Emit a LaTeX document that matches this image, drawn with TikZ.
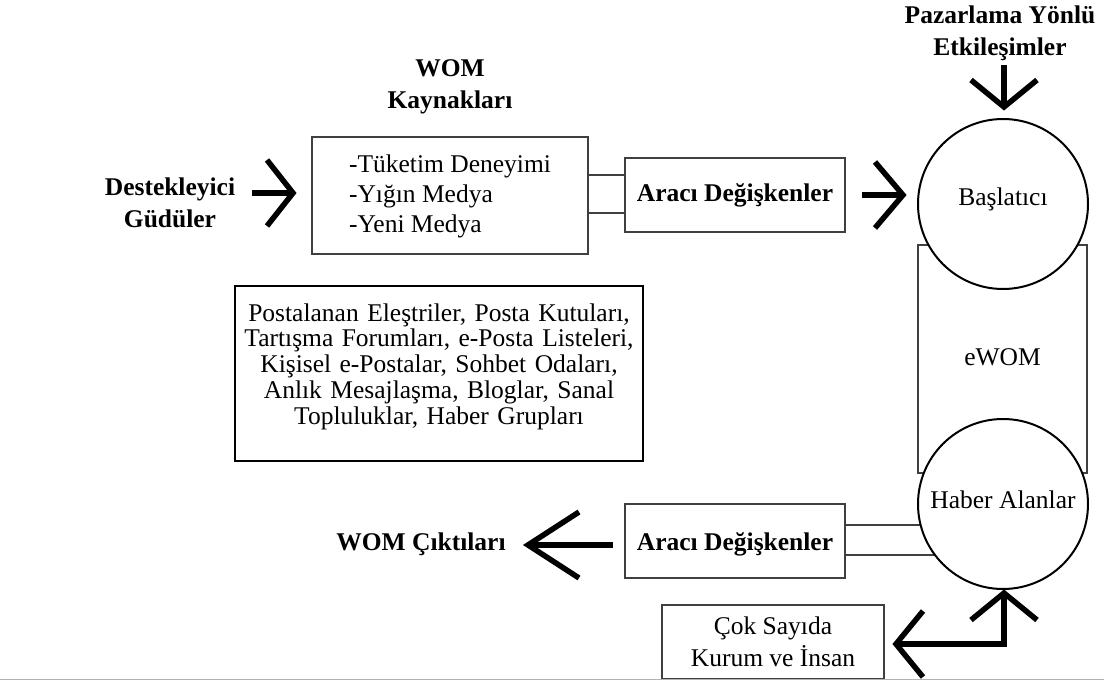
\documentclass[tikz,border=0pt]{standalone}
\usepackage{fontspec}
\setmainfont{Liberation Serif}
\newcommand\sr[2]{\rule[-#2pt]{0pt}{\dimexpr#1pt+#2pt\relax}}
\pgfdeclarelayer{bg}
\pgfsetlayers{bg,main}
\begin{document}
\begin{tikzpicture}[x=1pt,y=-1pt,
  every node/.style={font=\fontsize{25.5}{32}\selectfont, inner sep=0pt},
  bfnode/.style={font=\fontsize{25.5}{32}\selectfont\bfseries, align=center},
  thinbox/.style={draw=black!75, line width=1.3pt, rectangle},
  rnd/.style={circle, draw=black, line width=2pt, fill=white, minimum size=170pt},
  arr/.style={line width=5.5pt, line join=miter, line cap=butt},
  conn/.style={draw=black!75, line width=1.3pt}
]
\useasboundingbox (0,0) rectangle (1104,682);

% text labels
\node[bfnode] (pye) at (1000,32) {\sr{24}{8}Pazarlama Yönlü\\\sr{24}{8}Etkileşimler};
\node[bfnode] (womk) at (450,85) {\sr{24}{8}WOM\\\sr{24}{8}Kaynakları};
\node[bfnode] (dest) at (170,203.5) {\sr{24}{8}Destekleyici\\\sr{24}{8}Güdüler};
\node[bfnode] (womc) at (421,542) {\sr{24}{8}WOM Çıktıları};

% boxes
\node[thinbox, minimum width=276pt, minimum height=117pt, align=left,
      font=\fontsize{25.5}{30}\selectfont] (kay) at (450,195.5)
  {\sr{22}{8}-Tüketim Deneyimi\\\sr{22}{8}-Yığın Medya\\\sr{22}{8}-Yeni Medya};
\node[thinbox, bfnode, minimum width=220pt, minimum height=74pt] (arac1) at (735,195)
  {\sr{24}{10}Aracı Değişkenler};
\node[thinbox, bfnode, minimum width=220pt, minimum height=74pt] (arac2) at (735,541)
  {\sr{24}{6}Aracı Değişkenler};
\node[thinbox, minimum width=222pt, minimum height=74pt, align=center] (cok) at (773,642)
  {\sr{24}{8}Çok Sayıda\\\sr{24}{8}Kurum ve İnsan};
\node[draw=black, line width=2pt, text width=408pt, align=center, inner xsep=0pt,
      inner ysep=16pt, anchor=north west, font=\fontsize{25.5}{25.8}\selectfont] (post) at (234,285)
  {\sr{19}{6.8}Postalanan Eleştriler, Posta Kutuları,\\
   \sr{19}{6.8}Tartışma Forumları, e-Posta Listeleri,\\
   \sr{19}{6.8}Kişisel e-Postalar, Sohbet Odaları,\\
   \sr{19}{6.8}Anlık Mesajlaşma, Bloglar, Sanal\\
   \sr{19}{21}Topluluklar, Haber Grupları};

% eWOM column
\begin{pgfonlayer}{bg}
\node[thinbox, minimum width=169pt, minimum height=228pt] (ewom) at (1002.5,359) {\sr{24}{12}eWOM};
\end{pgfonlayer}
\node[rnd] (basl) at (1003,204) {\sr{24}{22}Başlatıcı};
\node[rnd] (haber) at (1003,504) {\sr{24}{16}Haber Alanlar};

% double connectors
\coordinate (k1) at ([yshift=20pt]arac1.west);
\coordinate (k2) at ([yshift=-18pt]arac1.west);
\coordinate (h1) at ([yshift=16pt]arac2.east);
\coordinate (h2) at ([yshift=-14pt]arac2.east);
\begin{pgfonlayer}{bg}
\draw[conn] (k1) -- (k1 -| kay.east);
\draw[conn] (k2) -- (k2 -| kay.east);
\draw[conn] (h1) -- (h1 -| haber.center);
\draw[conn] (h2) -- (h2 -| haber.center);
\end{pgfonlayer}

% arrows
\coordinate (a1s) at (252,193);
\coordinate (a1t) at (293,193);
\draw[arr] (a1s) -- (a1t);
\draw[arr] (a1t) ++(-26,-33) -- (a1t) -- ++(-26,33);

\coordinate (a2s) at (862,195);
\coordinate (a2t) at (903,195);
\draw[arr] (a2s) -- (a2t);
\draw[arr] (a2t) ++(-28,-33) -- (a2t) -- ++(-28,33);

\coordinate (a3s) at (1004,65);
\coordinate (a3t) at (1004,107);
\draw[arr] (a3s) -- (a3t);
\draw[arr] (a3t) ++(-33,-27) -- (a3t) -- ++(33,-27);

\coordinate (a4s) at (613,545);
\coordinate (a4t) at (528,545);
\draw[arr] (a4s) -- (a4t);
\draw[arr] (a4t) ++(51,-33) -- (a4t) -- ++(51,33);

\coordinate (a5t) at (896,644);
\coordinate (a5c) at (1004,644);
\coordinate (a5u) at (1004,593);
\draw[arr] (a5t) -- (a5c) -- (a5u);
\draw[arr] (a5t) ++(27,-33) -- (a5t) -- ++(27,33);
\draw[arr] (a5u) ++(-33,27) -- (a5u) -- ++(33,27);

% page edge
\draw[gray!60, line width=1.5pt] (0,679.5) -- (1104,679.5);
\end{tikzpicture}
\end{document}
